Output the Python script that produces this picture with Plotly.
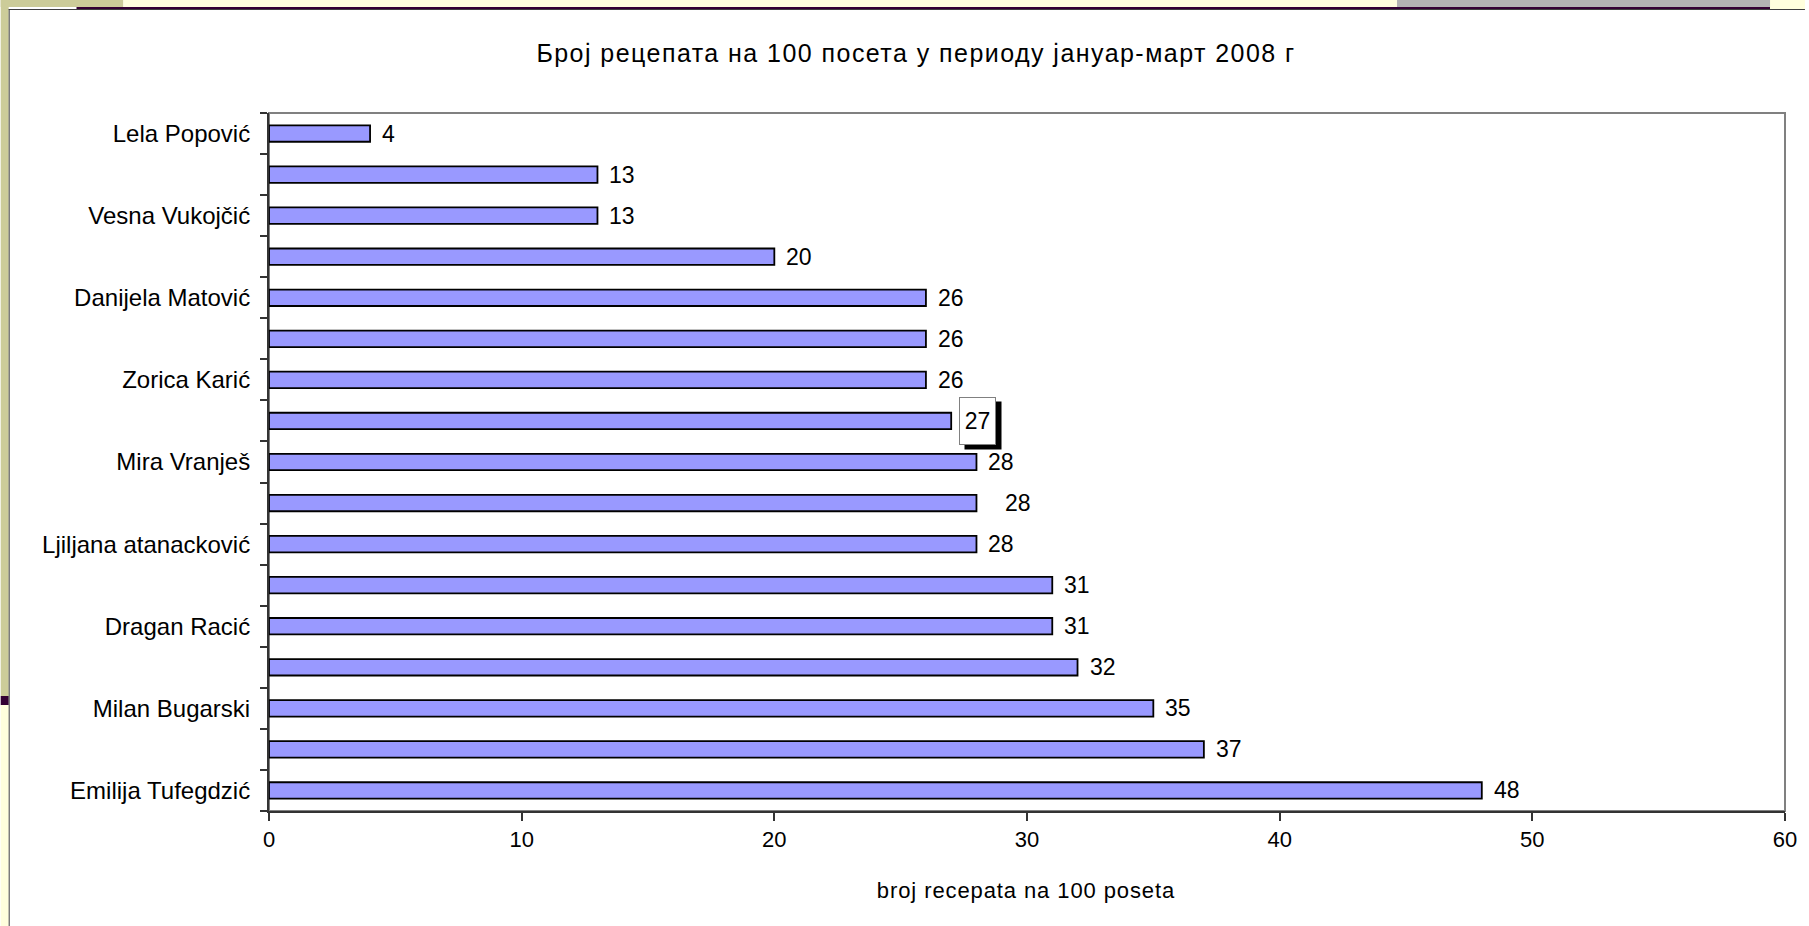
import plotly.graph_objects as go

# ---------------- data ----------------
doctors = ["Lela Popović", "", "Vesna Vukojčić", "", "Danijela Matović", "",
           "Zorica Karić", "", "Mira Vranješ", "", "Ljiljana atanacković", "",
           "Dragan Racić", "", "Milan Bugarski", "", "Emilija Tufegdzić"]
prescriptions = [4, 13, 13, 20, 26, 26, 26, 27, 28, 28, 28, 31, 31, 32, 35, 37, 48]
x_ticks = [0, 10, 20, 30, 40, 50, 60]

title_text = "Број рецепата на 100 посета у периоду јануар-март 2008 г"
x_title = "broj recepata na 100 poseta"

# ---------------- layout geometry (pixels) ----------------
W, H = 1809, 926
L, R, T, B = 269, 1789, 113, 811
FONT = "Liberation Sans, Arial, sans-serif"


def px(x):
    return (x - L) / (R - L)


def py(y):
    return (B - y) / (B - T)


pos = list(range(len(doctors)))

fig = go.Figure()
fig.add_trace(go.Bar(
    x=prescriptions, y=pos, orientation="h", width=0.4,
    marker=dict(color="#9999FF", line=dict(color="#000000", width=1.8)),
    hoverinfo="skip", showlegend=False,
))

# data labels
annotations = []
label_shift = {9: 27}
boxed_row = 7
for i, v in enumerate(prescriptions):
    if i == boxed_row:
        # shadow then box
        annotations.append(dict(
            x=v, y=i, xref="x", yref="y", text="\u00a0", showarrow=False,
            xanchor="left", yanchor="middle", xshift=13, yshift=-5,
            width=36, height=47, bgcolor="#000000", borderpad=0,
        ))
        annotations.append(dict(
            x=v, y=i, xref="x", yref="y", text=str(v), showarrow=False,
            xanchor="left", yanchor="middle", xshift=8, yshift=0,
            width=35, height=46, bgcolor="#FFFFFF", bordercolor="#808080",
            borderwidth=1, borderpad=0,
            font=dict(family=FONT, size=23, color="#000000"),
        ))
    else:
        annotations.append(dict(
            x=v, y=i, xref="x", yref="y", text=str(v), showarrow=False,
            xanchor="left", yanchor="middle", xshift=label_shift.get(i, 10),
            font=dict(family=FONT, size=23, color="#000000"),
        ))

annotations.append(dict(
    x=px(1028), y=py(890), xref="paper", yref="paper", text=x_title,
    showarrow=False, xanchor="center", yanchor="middle",
    font=dict(family=FONT, size=22, color="#000000"),
))
annotations.append(dict(
    x=px(918), y=py(53), xref="paper", yref="paper", text=title_text,
    showarrow=False, xanchor="center", yanchor="middle",
    font=dict(family=FONT, size=25, color="#000000"),
))

# slide decorations (pixel rectangles)
decor = [
    (0, 0, 123, 7, "#CCCC99"),
    (0, 0, 8, 696, "#CCCC99"),
    (0, 696, 8, 705, "#330033"),
    (0, 705, 8, 926, "#FFFFDD"),
    (123, 0, 1809, 7, "#FFFFDD"),
    (1400, 0, 1774, 7, "#B2B2B2"),
    (76, 7, 1774, 9, "#330033"),
    (1774, 7, 1809, 9, "#FFFFDD"),
    (8, 9, 1809, 10, "#404040"),
    (8, 9, 9, 926, "#404040"),
]
shapes = []
for x0, y0, x1, y1, c in decor:
    shapes.append(dict(type="rect", xref="paper", yref="paper",
                       x0=px(x0), x1=px(x1), y0=py(y0), y1=py(y1),
                       fillcolor=c, line=dict(width=0), layer="below"))
# plot-area frame
shapes.append(dict(type="rect", xref="x domain", yref="y domain",
                   x0=0, x1=1, y0=0, y1=1,
                   line=dict(color="#808080", width=2), layer="below"))

fig.update_layout(
    width=W, height=H,
    margin=dict(l=L, r=W - R, t=T, b=H - B, pad=0),
    paper_bgcolor="#FFFFFF", plot_bgcolor="#FFFFFF",
    font=dict(family=FONT, color="#000000"),
    annotations=annotations,
    shapes=shapes,
    xaxis=dict(
        range=[0, 60], tickmode="array", tickvals=x_ticks,
        ticktext=[str(t) for t in x_ticks],
        ticks="outside", ticklen=8, tickwidth=1.5, tickcolor="#333333",
        showline=True, linecolor="#333333", linewidth=2,
        showgrid=False, zeroline=False,
        tickfont=dict(family=FONT, size=22, color="#000000"),
        fixedrange=True,
    ),
    yaxis=dict(
        range=[len(doctors) - 0.5, -0.5],
        tickmode="array", tickvals=pos, ticktext=doctors,
        ticks="", ticklabelstandoff=12,
        minor=dict(tickmode="linear", tick0=-0.5, dtick=1, ticks="outside",
                   ticklen=7, tickwidth=1.5, tickcolor="#333333", showgrid=False),
        showline=True, linecolor="#333333", linewidth=2,
        showgrid=False, zeroline=False,
        tickfont=dict(family=FONT, size=24, color="#000000"),
        fixedrange=True,
    ),
)

post = """
document.body.style.margin='0';
document.body.style.overflow='hidden';
document.querySelectorAll('text').forEach(function(t){
  var s = t.textContent || '';
  if (s.indexOf('Број') === 0) { t.style.letterSpacing = '1.45px'; }
  else if (s.indexOf('broj recepata') === 0) { t.style.letterSpacing = '0.9px'; }
});
"""

fig.write_html("out.html", config={"displayModeBar": False}, post_script=post)
